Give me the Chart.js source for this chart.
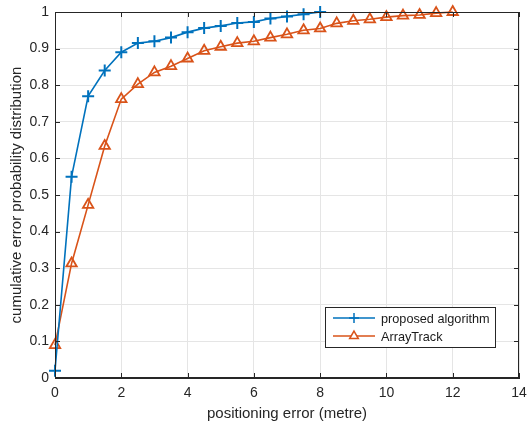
<!DOCTYPE html>
<html>
<head>
<meta charset="utf-8">
<script src="https://cdn.jsdelivr.net/npm/chart.js@4"></script>
<style>
  html, body { margin: 0; padding: 0; background: #fff; }
  #box { width: 528px; height: 426px; }
</style>
</head>
<body>
<div id="box"><canvas id="grafico"></canvas></div>
<script>
// x positions (metres)
const erroProposto = [0, 0.5, 1, 1.5, 2, 2.5, 3, 3.5, 4, 4.5, 5, 5.5, 6, 6.5, 7, 7.5, 8];
const cdfProposto = [0.02, 0.55, 0.77, 0.84, 0.89, 0.915, 0.92, 0.93, 0.945, 0.956, 0.962, 0.97, 0.973, 0.982, 0.988, 0.994, 1.0];

const erroArray = [0, 0.5, 1, 1.5, 2, 2.5, 3, 3.5, 4, 4.5, 5, 5.5, 6, 6.5, 7, 7.5, 8, 8.5, 9, 9.5, 10, 10.5, 11, 11.5, 12];
const cdfArray = [0.09, 0.313, 0.473, 0.634, 0.762, 0.803, 0.835, 0.852, 0.873, 0.894, 0.905, 0.915, 0.92, 0.93, 0.939, 0.95, 0.955, 0.969, 0.976, 0.98, 0.986, 0.99, 0.992, 0.997, 1.0];

const nomesSeries = ["proposed algorithm", "ArrayTrack"];
const azul = "#0072BD";
const laranja = "#D95319";
const fonte = "'Liberation Sans', Arial, sans-serif";

const pontos = (xs, ys) => xs.map((x, i) => ({ x: x, y: ys[i] }));

// moldura, ticks internos e legenda no estilo MATLAB
const molduraPlugin = {
  id: "moldura",
  afterDraw(chart) {
    const { ctx, chartArea: a, scales } = chart;
    ctx.save();
    ctx.strokeStyle = "#262626";
    ctx.lineWidth = 1;
    ctx.strokeRect(a.left + 0.5, a.top + 0.5, a.right - a.left - 1, a.bottom - a.top - 1);
    const t = 5;
    ctx.beginPath();
    scales.x.ticks.forEach(tk => {
      const px = Math.round(scales.x.getPixelForValue(tk.value)) + 0.5;
      ctx.moveTo(px, a.bottom); ctx.lineTo(px, a.bottom - t);
      ctx.moveTo(px, a.top); ctx.lineTo(px, a.top + t);
    });
    scales.y.ticks.forEach(tk => {
      const py = Math.round(scales.y.getPixelForValue(tk.value)) + 0.5;
      ctx.moveTo(a.left, py); ctx.lineTo(a.left + t, py);
      ctx.moveTo(a.right, py); ctx.lineTo(a.right - t, py);
    });
    ctx.stroke();

    // legenda
    const lx = 325, ly = 307, lw = 170, lh = 40;
    ctx.fillStyle = "#fff";
    ctx.fillRect(lx, ly, lw, lh);
    ctx.strokeStyle = "#262626";
    ctx.strokeRect(lx + 0.5, ly + 0.5, lw, lh);
    const cores = [azul, laranja];
    const estilos = ["cross", "triangle"];
    ctx.textBaseline = "middle";
    nomesSeries.forEach((nome, i) => {
      const y = ly + 11 + i * 18;
      ctx.strokeStyle = cores[i];
      ctx.lineWidth = 1.5;
      ctx.beginPath();
      ctx.moveTo(lx + 8, y); ctx.lineTo(lx + 50, y);
      ctx.stroke();
      ctx.fillStyle = "#fff";
      Chart.helpers.drawPoint(ctx, {
        pointStyle: estilos[i], radius: 5, borderWidth: 1.6, rotation: 0
      }, lx + 29, y);
      ctx.fillStyle = "#1a1a1a";
      ctx.font = "12.7px " + fonte;
      ctx.fillText(nome, lx + 56, y + 1);
    });
    ctx.restore();
  }
};

new Chart(document.getElementById("grafico").getContext("2d"), {
  type: "line",
  data: {
    datasets: [{
      label: nomesSeries[0],
      data: pontos(erroProposto, cdfProposto),
      borderColor: azul,
      backgroundColor: azul,
      borderWidth: 1.6,
      pointStyle: "cross",
      pointRadius: 6,
      pointBorderWidth: 2,
      pointHoverRadius: 6,
      tension: 0,
      clip: false
    }, {
      label: nomesSeries[1],
      data: pontos(erroArray, cdfArray),
      borderColor: laranja,
      backgroundColor: "rgba(0,0,0,0)",
      borderWidth: 1.6,
      pointStyle: "triangle",
      pointRadius: 6,
      pointBorderWidth: 1.8,
      pointHoverRadius: 6,
      tension: 0,
      clip: false
    }]
  },
  options: {
    responsive: true,
    maintainAspectRatio: false,
    animation: false,
    events: [],
    layout: { padding: { top: 12, right: 9, bottom: 2, left: 0 } },
    plugins: { legend: { display: false }, tooltip: { enabled: false } },
    scales: {
      x: {
        type: "linear",
        min: 0, max: 14,
        afterFit(s) { s.height = 46; s.paddingLeft = 0; s.paddingRight = 0; },
        ticks: { stepSize: 2, color: "#262626", padding: 7, font: { family: fonte, size: 14 } },
        grid: { color: "#e5e5e5", drawTicks: false },
        border: { color: "#262626" },
        title: { display: true, text: "positioning error (metre)", color: "#262626", padding: { top: 0, bottom: 1 }, font: { family: fonte, size: 15 } }
      },
      y: {
        min: 0, max: 1,
        afterFit(s) { s.width = 55; s.paddingTop = 0; s.paddingBottom = 0; },
        ticks: { stepSize: 0.1, color: "#262626", padding: 6, font: { family: fonte, size: 14 },
          callback: v => Math.round(v * 10) / 10 },
        grid: { color: "#e5e5e5", drawTicks: false },
        border: { color: "#262626" },
        title: { display: true, text: "cumulative error probability distribution", color: "#262626", padding: { top: 8, bottom: 0 }, font: { family: fonte, size: 15 } }
      }
    }
  },
  plugins: [molduraPlugin]
});
</script>
</body>
</html>
